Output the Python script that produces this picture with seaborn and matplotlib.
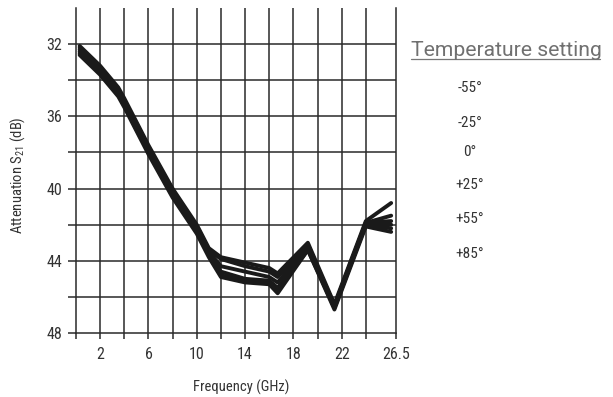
import matplotlib
matplotlib.use("Agg")
import matplotlib.pyplot as plt
import seaborn as sns
import pandas as pd
from matplotlib.lines import Line2D
from matplotlib import font_manager as fm

# ---- data ----
freq_ghz = [0.3, 2, 3.5, 4, 6, 8, 10, 11, 12, 14, 16, 16.7, 19.2, 21.4, 24, 26.1]
temps = ["-55°", "-25°", "0°", "+25°", "+55°", "+85°"]
att_m55 = [32.1, 33.2, 34.4, 35.0, 37.6, 40.0, 42.0, 43.3, 43.8, 44.1, 44.4, 44.7, 43.0, 46.4, 41.8, 40.8]
att_m25 = [32.2, 33.3, 34.5, 35.1, 37.7, 40.1, 42.1, 43.4, 43.9, 44.3, 44.6, 44.9, 43.1, 46.5, 41.9, 41.5]
att_0 = [32.3, 33.4, 34.6, 35.2, 37.8, 40.2, 42.2, 43.5, 44.3, 44.6, 44.9, 45.2, 43.2, 46.5, 41.9, 41.8]
att_p25 = [32.4, 33.5, 34.7, 35.3, 37.9, 40.3, 42.3, 43.6, 44.6, 45.0, 45.1, 45.5, 43.3, 46.6, 42.0, 42.0]
att_p55 = [32.5, 33.6, 34.8, 35.4, 38.0, 40.4, 42.4, 43.7, 44.8, 45.1, 45.2, 45.6, 43.4, 46.6, 42.0, 42.2]
att_p85 = [32.6, 33.7, 34.9, 35.5, 38.1, 40.5, 42.5, 43.8, 44.9, 45.2, 45.3, 45.8, 43.4, 46.7, 42.1, 42.4]
series = [att_m55, att_m25, att_0, att_p25, att_p55, att_p85]

x_tick_labels = ["2", "6", "10", "14", "18", "22", "26.5"]
x_tick_vals = [2, 6, 10, 14, 18, 22, 26.5]
y_tick_vals = [32, 36, 40, 44, 48]

rows = []
for t, vals in zip(temps, series):
    for f, v in zip(freq_ghz, vals):
        rows.append({"freq": f, "att": v, "temp": t})
df = pd.DataFrame(rows)

sns.set_style("white")
installed = {f.name for f in fm.fontManager.ttflist}
cond = [n for n in ["Liberation Sans Narrow", "DejaVu Sans Condensed", "Roboto Condensed", "Roboto"]
        if n in installed] + ["DejaVu Sans"]
plt.rcParams["font.family"] = cond
plt.rcParams["mathtext.fontset"] = "custom"
plt.rcParams["mathtext.rm"] = cond[0]
plt.rcParams["mathtext.it"] = cond[0]

fig = plt.figure(figsize=(6.13, 3.97), dpi=100)
ax = fig.add_axes([76 / 613, 1 - 333 / 397, 320 / 613, 325 / 397])

sns.lineplot(data=df, x="freq", y="att", hue="temp", palette=["#1a1a1a"] * 6,
             linewidth=2.8, ax=ax, legend=False, estimator=None, sort=False)

ax.set_xlim(0, 26.5)
ax.set_ylim(48, 30)

# grid
for gx in range(2, 26, 2):
    ax.axvline(gx, color="#2a2a2a", lw=1.1, zorder=0)
for gy in range(32, 48, 2):
    ax.axhline(gy, color="#2a2a2a", lw=1.1, zorder=0)

for s in ["left", "bottom", "right"]:
    ax.spines[s].set_color("#2a2a2a")
    ax.spines[s].set_linewidth(1.1)
ax.spines["top"].set_visible(False)

ax.set_xticks(x_tick_vals)
ax.set_xticklabels(x_tick_labels)
ax.set_xticks([0, 4, 8, 12, 16, 20, 24], minor=True)
ax.set_yticks(y_tick_vals)
ax.set_yticks([34, 38, 42, 46], minor=True)
ax.tick_params(axis="x", which="both", direction="out", length=4, width=1.1,
               color="#2a2a2a", bottom=True, pad=6, labelsize=11.5, labelcolor="#333333")
ax.tick_params(axis="y", which="both", direction="out", length=6, width=1.1,
               color="#2a2a2a", left=True, pad=4, labelsize=11.5, labelcolor="#333333")

ax.set_xlabel("")
ax.set_ylabel("")
fig.text(241 / 613, 1 - 387 / 397, "Frequency (GHz)", ha="center", va="center",
         fontsize=10.5, color="#333333")
fig.text(18 / 613, 1 - 175 / 397, "Attenuation S$_{21}$ (dB)", ha="center", va="center",
         rotation=90, fontsize=10.5, color="#333333")

# temperature legend text
fig.text(411 / 613, 1 - 56 / 397, "Temperature setting", ha="left", va="baseline",
         fontsize=15.2, color="#707070", family=["Roboto", "DejaVu Sans"])
fig.add_artist(Line2D([411 / 613, 600 / 613], [1 - 59 / 397, 1 - 59 / 397],
                      color="#777777", lw=0.9))
temp_y = [88, 123, 152, 185, 219, 254]
for t, yy in zip(temps, temp_y):
    fig.text(470 / 613, 1 - yy / 397, t, ha="center", va="center", fontsize=11,
             color="#333333")

fig.savefig("out.png", dpi=100)
